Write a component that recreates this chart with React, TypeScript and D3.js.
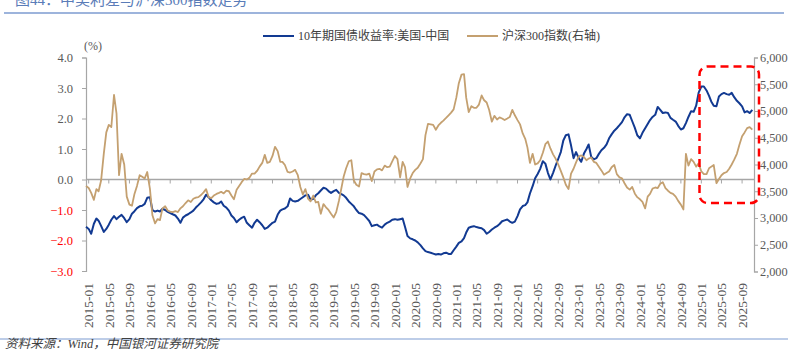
import React, { useEffect, useRef } from 'react';
import * as d3 from 'd3';

// half-month samples, first one 2014-12-16, then the 1st and 16th of every month
const spread = [
  -1.55, -1.62, -1.78, -1.45, -1.28, -1.35, -1.52, -1.72, -1.62, -1.48,
  -1.32, -1.20, -1.30, -1.22, -1.16, -1.27, -1.40, -1.30, -1.12, -1.04,
  -0.94, -0.88, -0.86, -0.80, -0.60, -0.58, -1.00, -1.05, -1.02, -1.05,
  -0.96, -1.00, -1.06, -1.10, -1.14, -1.18, -1.28, -1.42, -1.25, -1.18,
  -1.14, -1.08, -1.02, -0.92, -0.84, -0.75, -0.65, -0.50, -0.58, -0.68,
  -0.75, -0.80, -0.78, -0.72, -0.86, -0.92, -1.02, -1.18, -1.26, -1.40,
  -1.32, -1.26, -1.22, -1.42, -1.50, -1.58, -1.42, -1.32, -1.40, -1.50,
  -1.62, -1.58, -1.50, -1.42, -1.38, -1.15, -1.02, -0.98, -0.95, -0.88,
  -0.62, -0.70, -0.72, -0.70, -0.64, -0.58, -0.52, -0.50, -0.66, -0.64,
  -0.52, -0.45, -0.36, -0.27, -0.30, -0.38, -0.44, -0.38, -0.34, -0.44,
  -0.48, -0.52, -0.60, -0.72, -0.80, -0.88, -1.00, -1.10, -1.12, -1.17,
  -1.26, -1.36, -1.53, -1.50, -1.48, -1.54, -1.58, -1.48, -1.42, -1.38,
  -1.32, -1.30, -1.32, -1.30, -1.28, -1.55, -1.85, -1.93, -1.96, -2.00,
  -2.06, -2.15, -2.26, -2.35, -2.38, -2.40, -2.43, -2.46, -2.44, -2.46,
  -2.42, -2.40, -2.44, -2.44, -2.32, -2.20, -2.08, -2.03, -1.92, -1.74,
  -1.58, -1.55, -1.53, -1.56, -1.58, -1.60, -1.66, -1.78, -1.72, -1.64,
  -1.58, -1.53, -1.46, -1.37, -1.34, -1.31, -1.38, -1.42, -1.38, -1.20,
  -0.98, -0.87, -0.84, -0.75, -0.46, -0.22, 0.04, 0.18, 0.35, 0.60,
  0.52, 0.22, 0.00, 0.22, 0.45, 0.68, 0.90, 1.28, 1.45, 1.48,
  1.12, 0.70, 0.90, 0.70, 0.58, 0.85, 1.00, 1.15, 0.75, 0.66,
  0.70, 0.84, 0.96, 1.04, 1.15, 1.35, 1.48, 1.60, 1.68, 1.78,
  1.88, 2.04, 2.14, 2.12, 1.91, 1.70, 1.45, 1.35, 1.53, 1.68,
  1.82, 1.95, 2.05, 2.12, 2.38, 2.28, 2.18, 2.20, 2.18, 2.02,
  1.96, 1.90, 1.76, 1.64, 1.68, 1.85, 2.05, 2.24, 2.22, 2.42,
  2.85, 3.05, 3.05, 2.92, 2.74, 2.56, 2.42, 2.40, 2.72, 2.80,
  2.84, 2.80, 2.78, 2.84, 2.70, 2.58, 2.50, 2.40, 2.20, 2.24,
  2.18, 2.28
];

const hs300 = [
  3600, 3560, 3470, 3340, 3540, 3500, 3700, 4200, 4600, 4740,
  4700, 5300, 4950, 3800, 4200, 4000, 3400, 3250, 3230, 3450,
  3600, 3800, 3770, 3740, 3860, 3550, 3050, 2900, 2980, 2960,
  3180, 3220, 3140, 3120, 3110, 3130, 3110, 3180, 3220, 3280,
  3330, 3300, 3360, 3380, 3390, 3430, 3480, 3540, 3390, 3370,
  3420, 3450, 3470, 3490, 3460, 3510, 3500, 3420, 3350, 3530,
  3600, 3670, 3730, 3720, 3750, 3830, 3830, 3880, 3960, 4030,
  4180, 4030, 4050, 4160, 4330, 4250, 4050, 4050, 3990, 3860,
  3850, 3870, 3900, 3800, 3580, 3440, 3540, 3360, 3310, 3420,
  3290, 3300, 3080, 3260, 3200, 3150, 3080, 3010, 3110, 3320,
  3560, 3770, 3930, 4060, 4080, 3700, 3620, 3590, 3840, 3820,
  3810, 3830, 3690, 3870, 3910, 3920, 3890, 3980, 3950, 3960,
  4060, 4160, 4100, 3760, 4050, 3950, 3580, 3740, 3840, 3900,
  3940, 4020, 4100, 4550, 4760, 4750, 4740, 4650, 4730, 4780,
  4820, 4870, 4920, 4970, 5030, 5250, 5520, 5680, 5690, 5250,
  4980, 5090, 5060, 5060, 5120, 5290, 5200, 5160, 5020, 4800,
  4910, 4840, 4880, 4860, 4830, 4860, 4890, 5020, 4920, 4830,
  4750, 4580, 4480, 4320, 4030, 4200, 4000, 4020, 4080, 4220,
  4380, 4430, 4300, 4190, 4110, 4000, 3880, 3760, 3620, 3540,
  3830, 3920, 4040, 4150, 4170, 4140, 4080, 4110, 4130, 4050,
  4030, 3960, 3890, 3810, 3840, 3870, 3950, 3990, 3820, 3760,
  3740, 3650, 3570, 3530, 3580, 3460, 3390, 3350, 3300, 3180,
  3400, 3450, 3550, 3570, 3560, 3640, 3670, 3560, 3510, 3470,
  3450, 3400, 3320, 3250, 3160, 4200, 3980, 4100, 4050, 3960,
  4020, 3870, 3820, 3820, 3930, 3960, 3990, 3650, 3730, 3800,
  3840, 3860, 3920, 4000, 4090, 4200, 4370, 4530, 4600, 4680,
  4700, 4650
];

const leftTicks = [-3, -2, -1, 0, 1, 2, 3, 4];
const rightTicks = [2000, 2500, 3000, 3500, 4000, 4500, 5000, 5500, 6000];
const seriesNames = ['10年期国债收益率:美国-中国', '沪深300指数(右轴)'];
const title = '图44：中美利差与沪深300指数走势';
const source = '资料来源：Wind，中国银河证券研究院';

const FONT = "'Liberation Serif', 'Noto Sans CJK SC', serif";

function sampleDate(i: number) {
  const m = Math.floor((i - 1) / 2);
  const day = (((i - 1) % 2) + 2) % 2 === 0 ? 1 : 16;
  return new Date(2015, m, day);
}

export default function App() {
  const ref = useRef<SVGSVGElement>(null);

  useEffect(() => {
    const svg = d3.select(ref.current);
    svg.selectAll('*').remove();

    const colors = ['#123a92', '#c4a070'];

    const x = d3.scaleTime()
      .domain([new Date(2014, 11, 16), new Date(2025, 10, 11)])
      .range([86, 754]);
    const yL = d3.scaleLinear().domain([-3, 4]).range([271, 57.5]);
    const yR = d3.scaleLinear().domain([2000, 6000]).range([271.5, 57.5]);

    // title + rules
    svg.append('text')
      .attr('x', 15).attr('y', 5)
      .attr('font-family', FONT).attr('font-size', 15)
      .attr('fill', '#5a7cb8')
      .text(title);
    svg.append('line')
      .attr('x1', 4).attr('x2', 784).attr('y1', 13).attr('y2', 13)
      .attr('stroke', '#7d9bd1').attr('stroke-width', 1.5);
    svg.append('line')
      .attr('x1', 0).attr('x2', 788).attr('y1', 339).attr('y2', 339)
      .attr('stroke', '#7d9bd1').attr('stroke-width', 1.2);
    svg.append('text')
      .attr('x', 5).attr('y', 348)
      .attr('font-family', FONT).attr('font-size', 12.5)
      .attr('font-style', 'italic')
      .attr('fill', '#404040')
      .text(source);

    // legend
    const legend = svg.append('g').attr('font-family', FONT).attr('font-size', 12).attr('fill', '#404040');
    const legX = [263, 467];
    seriesNames.forEach((name, i) => {
      legend.append('line')
        .attr('x1', legX[i]).attr('x2', legX[i] + 31).attr('y1', 36).attr('y2', 36)
        .attr('stroke', colors[i]).attr('stroke-width', 2);
      legend.append('text')
        .attr('x', legX[i] + 35).attr('y', 40)
        .text(name);
    });

    // left axis
    const gL = svg.append('g').attr('transform', 'translate(86,0)')
      .call(d3.axisLeft(yL).tickValues(leftTicks).tickSize(4).tickPadding(9).tickFormat(d3.format('.1f')));
    gL.select('.domain').attr('stroke', '#a6a6a6').attr('stroke-width', 1.2);
    gL.selectAll('.tick line').attr('stroke', '#a6a6a6');
    gL.selectAll('.tick text')
      .attr('font-family', FONT).attr('font-size', 12.5)
      .attr('fill', (d: any) => (d < 0 ? '#ff0000' : '#595959'));
    svg.append('text')
      .attr('x', 84).attr('y', 50)
      .attr('font-family', FONT).attr('font-size', 12).attr('fill', '#595959')
      .text('(%)');

    // right axis
    const gR = svg.append('g').attr('transform', 'translate(754,0)')
      .call(d3.axisRight(yR).tickValues(rightTicks).tickSize(4).tickPadding(2).tickFormat(d3.format(',')));
    gR.select('.domain').attr('stroke', '#a6a6a6').attr('stroke-width', 1.2);
    gR.selectAll('.tick line').attr('stroke', '#a6a6a6');
    gR.selectAll('.tick text')
      .attr('font-family', FONT).attr('font-size', 12.3).attr('fill', '#595959');

    // x axis along zero, labels at the bottom
    const xTicks = d3.timeMonth.every(4)!.range(new Date(2015, 0, 1), new Date(2025, 9, 2));
    svg.append('line')
      .attr('x1', 86).attr('x2', 754).attr('y1', yL(0)).attr('y2', yL(0))
      .attr('stroke', '#a6a6a6').attr('stroke-width', 1.5);
    svg.append('g').selectAll('line')
      .data(xTicks).enter().append('line')
      .attr('x1', (d) => x(d)).attr('x2', (d) => x(d))
      .attr('y1', yL(0)).attr('y2', yL(0) + 4)
      .attr('stroke', '#a6a6a6');
    svg.append('g').selectAll('text')
      .data(xTicks).enter().append('text')
      .attr('transform', (d) => `translate(${x(d)},283) rotate(-90)`)
      .attr('text-anchor', 'end')
      .attr('dy', '0.35em')
      .attr('font-family', FONT).attr('font-size', 13.5).attr('fill', '#595959')
      .text((d) => d3.timeFormat('%Y-%m')(d));

    // series
    const lineL = d3.line<number>().x((d, i) => x(sampleDate(i))).y((d) => yL(d));
    const lineR = d3.line<number>().x((d, i) => x(sampleDate(i))).y((d) => yR(d));
    svg.append('path').datum(spread)
      .attr('d', lineL).attr('fill', 'none')
      .attr('stroke', colors[0]).attr('stroke-width', 2).attr('stroke-linejoin', 'round');
    svg.append('path').datum(hs300)
      .attr('d', lineR).attr('fill', 'none')
      .attr('stroke', colors[1]).attr('stroke-width', 1.8).attr('stroke-linejoin', 'round');

    // highlight box
    svg.append('rect')
      .attr('x', 699.5).attr('y', 66.5).attr('width', 59.5).attr('height', 136.5)
      .attr('rx', 8).attr('ry', 8)
      .attr('fill', 'none').attr('stroke', '#ff0000').attr('stroke-width', 2.5)
      .attr('stroke-dasharray', '8,5');
  }, []);

  return (
    <svg ref={ref} width={788} height={350}
      style={{ position: 'absolute', left: 0, top: 0, background: '#fff' }} />
  );
}
